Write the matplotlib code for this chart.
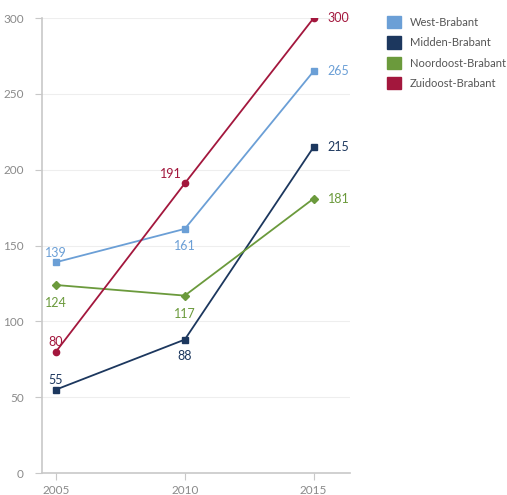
import matplotlib
matplotlib.use("Agg")
import matplotlib.pyplot as plt
from matplotlib.patches import Patch

plt.rcParams['font.family'] = ['Lato', 'DejaVu Sans']

years = [2005, 2010, 2015]
series_names = ["West-Brabant", "Midden-Brabant", "Noordoost-Brabant", "Zuidoost-Brabant"]
west = [139, 161, 265]
midden = [55, 88, 215]
noord = [124, 117, 181]
zuid = [80, 191, 300]
colors = ["#6b9fd6", "#1c375e", "#6b9a3c", "#a3173d"]
markers = ["s", "s", "D", "o"]
yticks = [0, 50, 100, 150, 200, 250, 300]

fig = plt.figure(figsize=(5.07, 4.95), dpi=100)
ax = fig.add_axes([0.0828, 0.0444, 0.607, 0.919])

data = [west, midden, noord, zuid]
offsets = [
    [(0, 7), (0, -12), (10, 0)],
    [(0, 7), (0, -12), (10, 0)],
    [(0, -13), (0, -13), (10, 0)],
    [(0, 7), (-10, 7), (10, 0)],
]
for vals, c, m, name, offs in zip(data, colors, markers, series_names, offsets):
    ax.plot(years, vals, color=c, marker=m, markersize=4.5, linewidth=1.3, zorder=3)
    for x, v, (dx, dy) in zip(years, vals, offs):
        ha = 'left' if dx > 0 else 'center'
        ax.annotate(str(v), (x, v), xytext=(dx, dy), textcoords='offset points',
                    ha=ha, va='center', color=c, fontsize=9)

ax.set_xlim(2004.46, 2016.4)
ax.set_ylim(0, 300)
ax.set_yticks(yticks)
ax.set_xticks(years)
ax.grid(axis='y', color='#eeeeee', linewidth=0.8, zorder=0)
for s in ['top', 'right']:
    ax.spines[s].set_visible(False)
for s in ['left', 'bottom']:
    ax.spines[s].set_color('#c8c8c8')
    ax.spines[s].set_linewidth(1.2)
ax.tick_params(axis='both', colors='#c8c8c8', labelcolor='#8a8a8a', labelsize=8.5, length=5)
ax.tick_params(axis='y', pad=8)

handles = [Patch(facecolor=c, edgecolor=c) for c in colors]
fig.legend(handles, series_names, loc='upper left', bbox_to_anchor=(387/507, 1 - 16/495),
           frameon=False, fontsize=8, labelcolor='#555555', handlelength=1.3,
           handleheight=1.3, handletextpad=0.75, labelspacing=0.75, borderpad=0,
           borderaxespad=0)

fig.savefig("out.png", dpi=100)
